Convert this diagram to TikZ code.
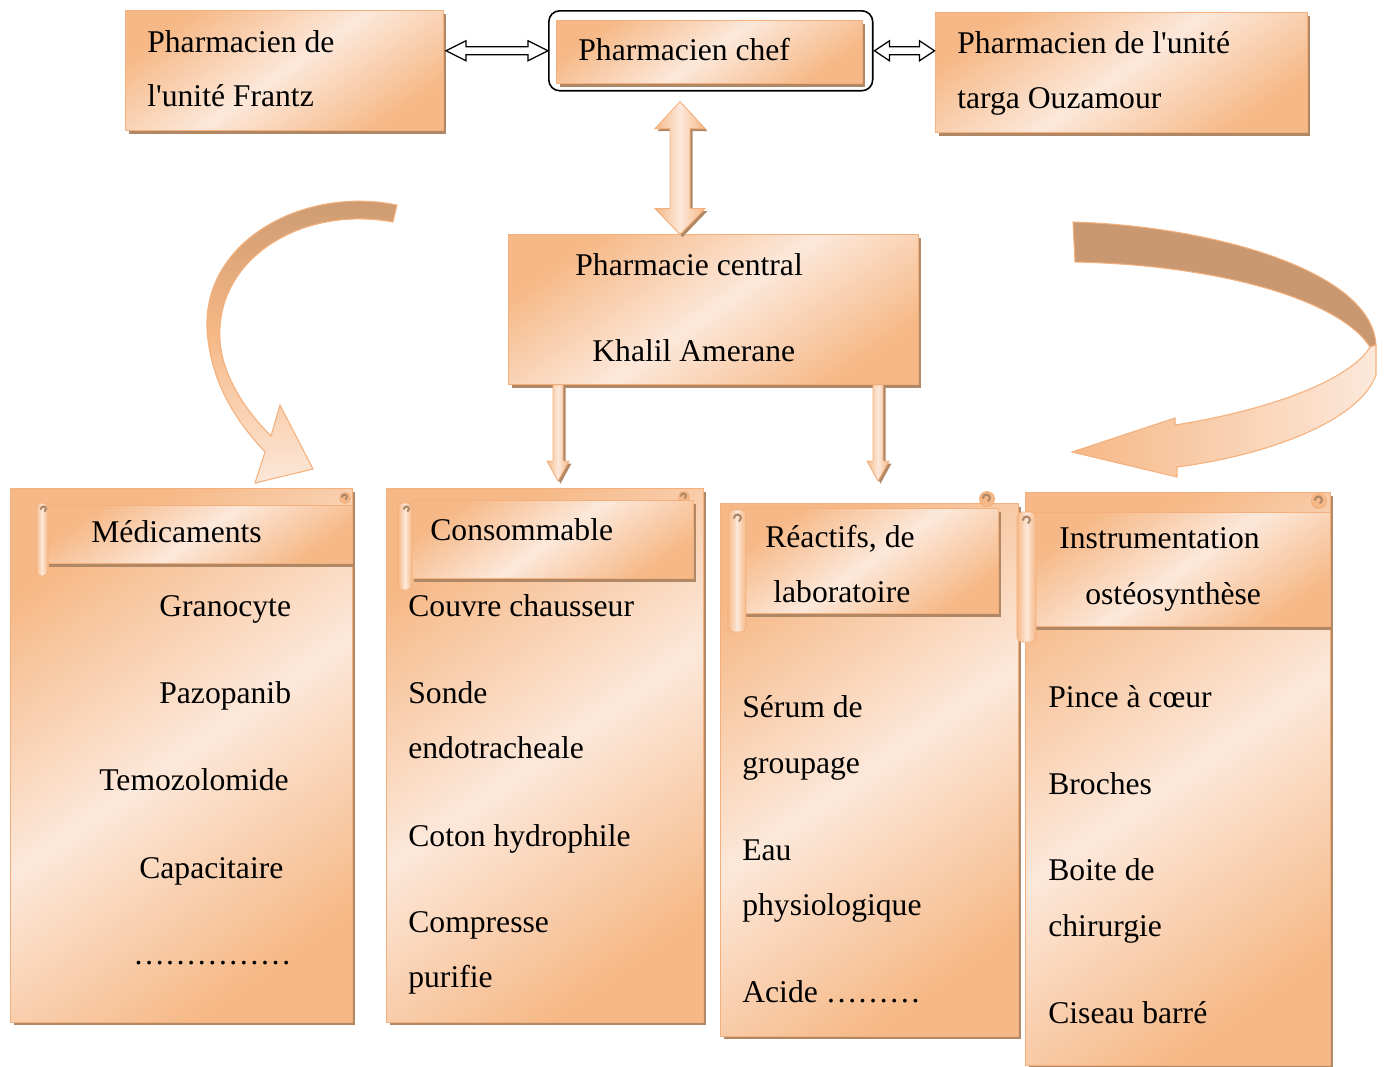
\documentclass[tikz,border=0pt]{standalone}
\usepackage{fontspec}
\setmainfont{Liberation Serif}
\newfontfamily\pharmfont{Liberation Serif}
\usetikzlibrary{positioning, shadows}
\definecolor{peach}{HTML}{F6B886}
\definecolor{peachlight}{HTML}{FCE8DA}
\definecolor{peachedge}{HTML}{F4B07C}
\definecolor{shadowbrown}{HTML}{B08866}
\definecolor{bandbrown}{HTML}{C99870}
\tikzstyle{pbox} = [rectangle, draw=peachedge, line width=0.6pt, top color=peach, bottom color=peach, middle color=peachlight, shading angle=35, drop shadow={shadow xshift=0.06cm, shadow yshift=-0.06cm, fill=shadowbrown, opacity=1}, inner sep=0pt, anchor=north west]
\tikzstyle{frame} = [rectangle, rounded corners=0.22cm, draw=black, line width=0.9pt, inner sep=0pt, anchor=north west]
\tikzstyle{txt} = [anchor=base west, inner sep=0pt, font=\pharmfont\fontsize{18}{22}\selectfont]
\tikzstyle{warrow} = [draw=black, fill=white, line width=0.7pt, line join=miter]
\tikzstyle{oarrow} = [draw=peachedge, line width=0.5pt, left color=peach, right color=peach, middle color=peachlight, drop shadow={shadow xshift=0.05cm, shadow yshift=-0.05cm, fill=shadowbrown, opacity=1}]
\tikzstyle{roll} = [draw=peachedge, line width=0.5pt, left color=peach, right color=peach, middle color=peachlight, rounded corners=0.1cm]
\tikzstyle{curl} = [draw=peachedge, fill=peach, line width=0.5pt]
\tikzstyle{curlin} = [draw=shadowbrown, line width=1.2pt, line cap=round]
\tikzstyle{band} = [draw=peachedge, line width=0.6pt]

\begin{document}
\begin{tikzpicture}[x=0.02cm, y=-0.02cm]
\useasboundingbox (0,0) rectangle (1387,1066);

% top row
\node(frantz)[pbox, minimum width=6.36cm, minimum height=2.4cm] at (125,10) {};
\node(chefframe)[frame, minimum width=6.48cm, minimum height=1.6cm] at (548,10) {};
\node(chef)[pbox, minimum width=6.12cm, minimum height=1.26cm] at (556,20) {};
\node(targa)[pbox, minimum width=7.44cm, minimum height=2.4cm] at (935,12) {};

\node(frantzA)[txt] at (147,52) {Pharmacien de};
\node(frantzB)[txt] at (147,106) {l'unité Frantz};
\node(chefA)[txt] at (578,60) {Pharmacien chef};
\node(targaA)[txt] at (957,53) {Pharmacien de l'unité};
\node(targaB)[txt] at (957,108) {targa Ouzamour};

\draw [warrow] (frantz.east |- chefframe.west) ++(2,0) -- ++(20,-10) -- ++(0,6) -- ++(62,0) -- ++(0,-6) -- ++(20,10) -- ++(-20,10) -- ++(0,-6) -- ++(-62,0) -- ++(0,6) -- cycle;
\draw [warrow] (chefframe.east) ++(1,0) -- ++(15,-10) -- ++(0,6) -- ++(30,0) -- ++(0,-6) -- ++(15,10) -- ++(-15,10) -- ++(0,-6) -- ++(-30,0) -- ++(0,6) -- cycle;

% central
\node(central)[pbox, minimum width=8.2cm, minimum height=3cm] at (508,234) {};
\node(centralA)[txt] at (575,275) {Pharmacie central};
\node(centralB)[txt] at (592,361) {Khalil Amerane};

\draw [oarrow] (chefframe.south -| 680,0) ++(0,10) -- ++(25,27) -- ++(-15,0) -- ++(0,80) -- ++(15,0) -- ++(-25,26) -- ++(-25,-26) -- ++(15,0) -- ++(0,-80) -- ++(-15,0) -- cycle;
\draw [oarrow] (central.south -| 553,0) -- ++(0,76) -- ++(-6,0) -- ++(11,20) -- ++(11,-20) -- ++(-6,0) -- ++(0,-76) -- cycle;
\draw [oarrow] (central.south -| 873,0) -- ++(0,76) -- ++(-6,0) -- ++(11,20) -- ++(11,-20) -- ++(-6,0) -- ++(0,-76) -- cycle;

% curved arrows
\shade [band, top color=bandbrown, bottom color=peachlight, middle color=peach]
  (397,205) .. controls (300,185) and (195,245) .. (208,340) .. controls (215,395) and (245,430) .. (265,452)
  -- (255,483) -- (313,469) -- (280,405) -- (271,436)
  .. controls (245,410) and (222,375) .. (220,340) .. controls (215,260) and (300,205) .. (393,222) -- cycle;
\fill [band, fill=bandbrown]
  (1073,222) .. controls (1210,226) and (1372,270) .. (1376,345) -- (1370,347)
  .. controls (1340,300) and (1220,265) .. (1075,262) -- cycle;
\shade [band, left color=peach, right color=peachlight]
  (1376,345) -- (1376,375) .. controls (1360,420) and (1270,455) .. (1177,467) -- (1177,477) -- (1072,452)
  -- (1175,418) -- (1175,425) .. controls (1270,410) and (1350,380) .. (1370,347) -- cycle;

% columns
\node(medic)[pbox, minimum width=6.84cm, minimum height=10.68cm] at (10,488) {};
\node(conso)[pbox, minimum width=6.34cm, minimum height=10.68cm] at (386,488) {};
\node(reac)[pbox, minimum width=5.96cm, minimum height=10.66cm] at (720,503) {};
\node(instr)[pbox, minimum width=6.1cm, minimum height=11.46cm] at (1025,492) {};

\draw [curl] (345,498) circle (0.11cm);
\draw [curlin] (342,497) arc[start angle=180, end angle=-60, radius=0.05cm];
\draw [curl] (684,497) circle (0.11cm);
\draw [curlin] (681,496) arc[start angle=180, end angle=-60, radius=0.05cm];
\draw [curl] (1319,501) circle (0.15cm);
\draw [curlin] (1315,500) arc[start angle=180, end angle=-60, radius=0.07cm];

% headers
\node(medicH)[pbox, minimum width=6.14cm, minimum height=1.16cm] at (45,505) {};
\draw [roll] (36,503) rectangle (48,576);
\draw [curlin] (41,509) arc[start angle=180, end angle=-60, radius=0.05cm];
\node(consoH)[pbox, minimum width=5.66cm, minimum height=1.56cm] at (410,500) {};
\draw [roll] (398,503) rectangle (412,590);
\draw [curlin] (404,509) arc[start angle=180, end angle=-60, radius=0.05cm];
\node(reacH)[pbox, minimum width=5.12cm, minimum height=2.1cm] at (742,508) {};
\draw [roll] (728,510) rectangle (746,632);
\draw [curlin] (734,518) arc[start angle=180, end angle=-60, radius=0.07cm];
\draw [curl] (987,499) circle (0.15cm);
\draw [curlin] (983,498) arc[start angle=180, end angle=-60, radius=0.07cm];
\node(instrH)[pbox, minimum width=5.96cm, minimum height=2.28cm] at (1032,512) {};
\draw [roll] (1017,512) rectangle (1036,642);
\draw [curlin] (1023,520) arc[start angle=180, end angle=-60, radius=0.07cm];

\node(medicT)[txt] at (91,542) {Médicaments};
\node(consoT)[txt] at (430,540) {Consommable};
\node(reacT)[txt] at (765,547) {Réactifs, de};
\node(reacT2)[txt] at (773,602) {laboratoire};
\node(instrT)[txt] at (1059,548) {Instrumentation};
\node(instrT2)[txt] at (1085,604) {ostéosynthèse};

% items
\node(m1)[txt] at (159,616) {Granocyte};
\node(m2)[txt] at (159,703) {Pazopanib};
\node(m3)[txt] at (99,790) {Temozolomide};
\node(m4)[txt] at (139,878) {Capacitaire};
\node(m5)[txt] at (133,964) {……………};

\node(c1)[txt] at (408,616) {Couvre chausseur};
\node(c2)[txt] at (408,703) {Sonde};
\node(c3)[txt] at (408,758) {endotracheale};
\node(c4)[txt] at (408,846) {Coton hydrophile};
\node(c5)[txt] at (408,932) {Compresse};
\node(c6)[txt] at (408,987) {purifie};

\node(r1)[txt] at (742,717) {Sérum de};
\node(r2)[txt] at (742,773) {groupage};
\node(r3)[txt] at (742,860) {Eau};
\node(r4)[txt] at (742,915) {physiologique};
\node(r5)[txt] at (742,1002) {Acide ………};

\node(i1)[txt] at (1048,707) {Pince à cœur};
\node(i2)[txt] at (1048,794) {Broches};
\node(i3)[txt] at (1048,880) {Boite de};
\node(i4)[txt] at (1048,936) {chirurgie};
\node(i5)[txt] at (1048,1023) {Ciseau barré};

\end{tikzpicture}
\end{document}
